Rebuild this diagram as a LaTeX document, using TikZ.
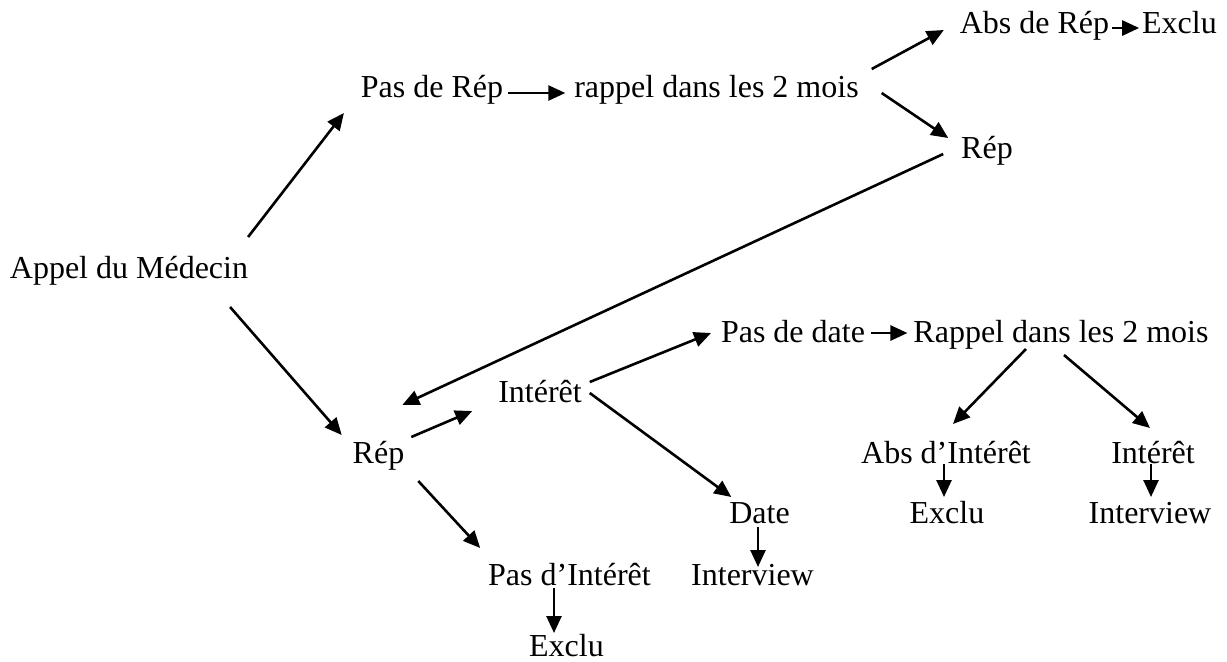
\documentclass[tikz,border=0pt]{standalone}
\usepackage{fontspec}
\setmainfont{Liberation Serif}
\usetikzlibrary{arrows.meta}

\begin{document}
\begin{tikzpicture}[x=0.5pt, y=-0.5pt,
  txt/.style={anchor=base, inner sep=0pt, outer sep=0pt, text height=11pt, text depth=3.5pt, font=\fontsize{16}{19}\selectfont},
  arr/.style={-{Triangle[length=8.5pt, width=7.5pt]}, line width=1.3pt}]
\useasboundingbox (0, 0) rectangle (1227, 661);

\node[txt] (appel) at (129, 278){Appel du Médecin};

\node[txt] (pasrep) at (432, 97){Pas de Rép};
\node[txt] (rappel1) at (716.5, 97){rappel dans les 2 mois};
\node[txt] (absrep) at (1034.5, 33){Abs de Rép};
\node[txt] (exclu1) at (1179.5, 33){Exclu};
\node[txt] (rep1) at (987, 158){Rép};

\node[txt] (rep2) at (378.5, 463){Rép};
\node[txt] (interet1) at (540, 402){Intérêt};
\node[txt] (pasint) at (569.5, 585){Pas d’Intérêt};
\node[txt] (exclu2) at (566.5, 656){Exclu};
\node[txt] (pasdate) at (793, 342){Pas de date};
\node[txt] (rappel2) at (1061, 342){Rappel dans les 2 mois};
\node[txt] (date) at (759.5, 523){Date};
\node[txt] (interview1) at (752.5, 585){Interview};
\node[txt] (absint) at (946, 463){Abs d’Intérêt};
\node[txt] (exclu3) at (947, 523){Exclu};
\node[txt] (interet2) at (1153, 463){Intérêt};
\node[txt] (interview2) at (1150, 523){Interview};

% upper branch
\draw[arr] ([shift={(0,-19)}]appel.north east) -- ([shift={(-17,9)}]pasrep.south west);
\draw[arr] ([shift={(5,3.5)}]pasrep.east) -- ([shift={(-9,3.5)}]rappel1.west);
\draw[arr] ([shift={(13,-6)}]rappel1.north east) -- ([shift={(-16,-10)}]absrep.south west);
\draw[arr] ([shift={(23,3.5)}]rappel1.east) -- ([shift={(-13,-12.5)}]rep1.west);
\draw[arr] ([shift={(3,2.5)}]absrep.east) -- ([shift={(-3,2.5)}]exclu1.west);
\draw[arr] ([shift={(-18,3.5)}]rep1.west) -- ([shift={(-2,-36)}]rep2.north east);

% lower branch
\draw[arr] ([shift={(-18,22)}]appel.south east) -- ([shift={(-11,-6)}]rep2.north west);
\draw[arr] ([shift={(7,-4)}]rep2.north east) -- ([shift={(-26,2)}]interet1.south west);
\draw[arr] ([shift={(14,11)}]rep2.south east) -- ([shift={(-8,-15)}]pasint.north west);
\draw[arr] ([shift={(-15.5,-4)}]pasint.south) -- ([shift={(-12.5,-1)}]exclu2.north);
\draw[arr] ([shift={(8,2)}]interet1.north east) -- ([shift={(-10,-1.5)}]pasdate.west);
\draw[arr] ([shift={(8,-1.5)}]interet1.east) -- ([shift={(2,-4)}]date.north west);
\draw[arr] ([shift={(-1.5,-3)}]date.south) -- ([shift={(5.5,4)}]interview1.north);
\draw[arr] ([shift={(6,-1.5)}]pasdate.east) -- ([shift={(-6,-1.5)}]rappel2.west);
\draw[arr] ([shift={(-35,0)}]rappel2.south) -- ([shift={(7,-17)}]absint.north);
\draw[arr] ([shift={(3,6)}]rappel2.south) -- ([shift={(-3,-13)}]interet2.north);
\draw[arr] ([shift={(-2,-6)}]absint.south) -- ([shift={(-3,-4)}]exclu3.north);
\draw[arr] ([shift={(-2,-6)}]interet2.south) -- ([shift={(1,-4)}]interview2.north);
\end{tikzpicture}
\end{document}
